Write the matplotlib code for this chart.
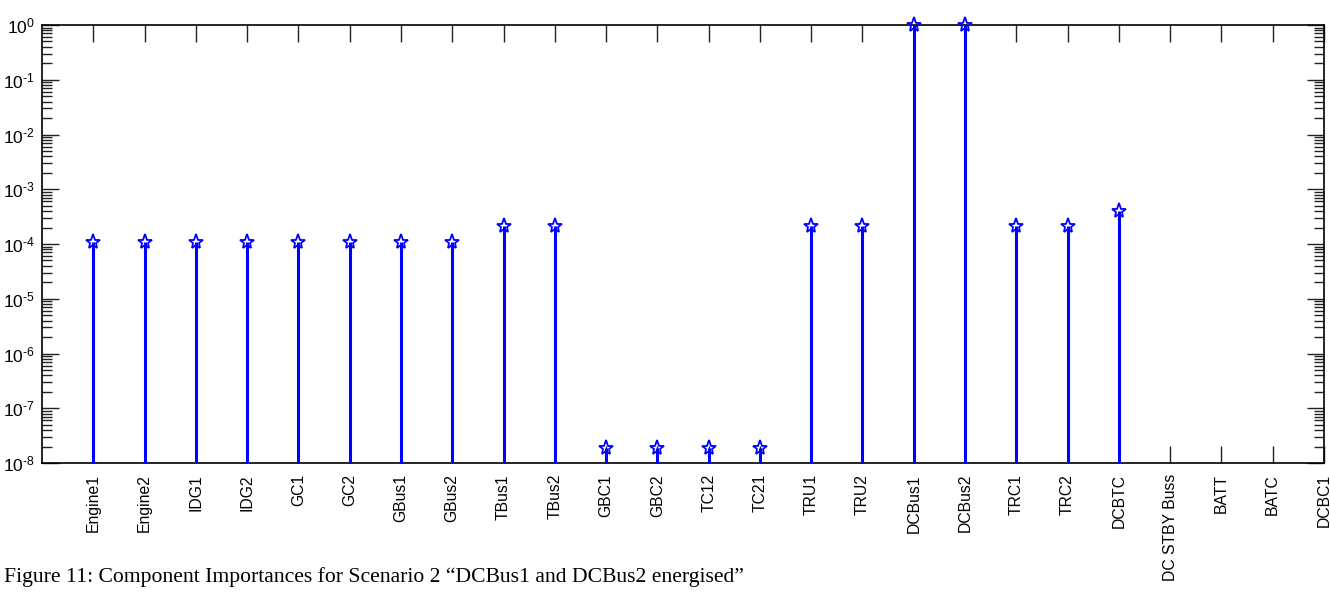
import matplotlib
matplotlib.use("Agg")
import matplotlib.pyplot as plt
import numpy as np
from matplotlib.ticker import LogLocator, FixedLocator, NullFormatter

categories = ["Engine1", "Engine2", "IDG1", "IDG2", "GC1", "GC2", "GBus1", "GBus2",
              "TBus1", "TBus2", "GBC1", "GBC2", "TC12", "TC21", "TRU1", "TRU2",
              "DCBus1", "DCBus2", "TRC1", "TRC2", "DCBTC", "DC STBY Buss", "BATT",
              "BATC", "DCBC1"]
importance = [1.1e-4, 1.1e-4, 1.1e-4, 1.1e-4, 1.1e-4, 1.1e-4, 1.1e-4, 1.1e-4,
              2.1e-4, 2.1e-4, 1.9e-8, 1.9e-8, 1.9e-8, 1.9e-8, 2.1e-4, 2.1e-4,
              1.0, 1.0, 2.1e-4, 2.1e-4, 4.0e-4, 0.0, 0.0, 0.0, 0.0]
caption = "Figure 11: Component Importances for Scenario 2 \u201cDCBus1 and DCBus2 energised\u201d"

plt.rcParams['font.family'] = ['Liberation Sans', 'DejaVu Sans']
plt.rcParams['mathtext.fontset'] = 'custom'
plt.rcParams['mathtext.rm'] = 'Liberation Sans'
plt.rcParams['mathtext.default'] = 'regular'
plt.rcParams['axes.unicode_minus'] = False

fig = plt.figure(figsize=(13.3, 6.06), dpi=100)
ax = fig.add_axes([42/1330, 1 - 463/606, (1324-42)/1330, (463-25)/606])

x = np.arange(1, len(categories) + 1)
vals = np.array(importance)
mask = vals > 0
ax.set_yscale('log')
ax.set_ylim(1e-8, 1)
ax.set_xlim(0, len(categories))
ax.vlines(x[mask], 1e-8, vals[mask], color='#0000ff', lw=2.2, zorder=3)
ax.plot(x[mask], vals[mask], linestyle='none', marker='*', markersize=11,
        markerfacecolor='none', markeredgecolor='#0000ff', markeredgewidth=1.3,
        zorder=4, clip_on=False)

ax.set_xticks(x)
ax.set_xticklabels(categories, rotation=90, fontsize=11.3)
ax.yaxis.set_major_locator(FixedLocator([10.0**k for k in range(-8, 1)]))
ax.set_yticklabels(['$10^{\\text{%s}}$' % ('-' + str(-k) if k < 0 else str(k)) for k in range(-8, 1)],
                   fontsize=12.5)
ax.yaxis.set_minor_locator(LogLocator(base=10, subs=np.arange(2, 10), numticks=20))
ax.yaxis.set_minor_formatter(NullFormatter())

ax.tick_params(axis='both', which='major', direction='in', length=12, width=1,
               top=True, right=True, color='#222222')
ax.tick_params(axis='y', which='minor', direction='in', length=7, width=1,
               left=True, right=True, color='#222222')
ax.tick_params(axis='x', which='major', pad=8)
ax.tick_params(axis='y', which='major', pad=5)
for s in ax.spines.values():
    s.set_linewidth(1.2)
    s.set_color('black')

fig.text(4/1330, 1 - 577/606, caption, fontsize=15.6, family='Liberation Serif',
         va='center', ha='left')

fig.savefig('out.png', dpi=100)
